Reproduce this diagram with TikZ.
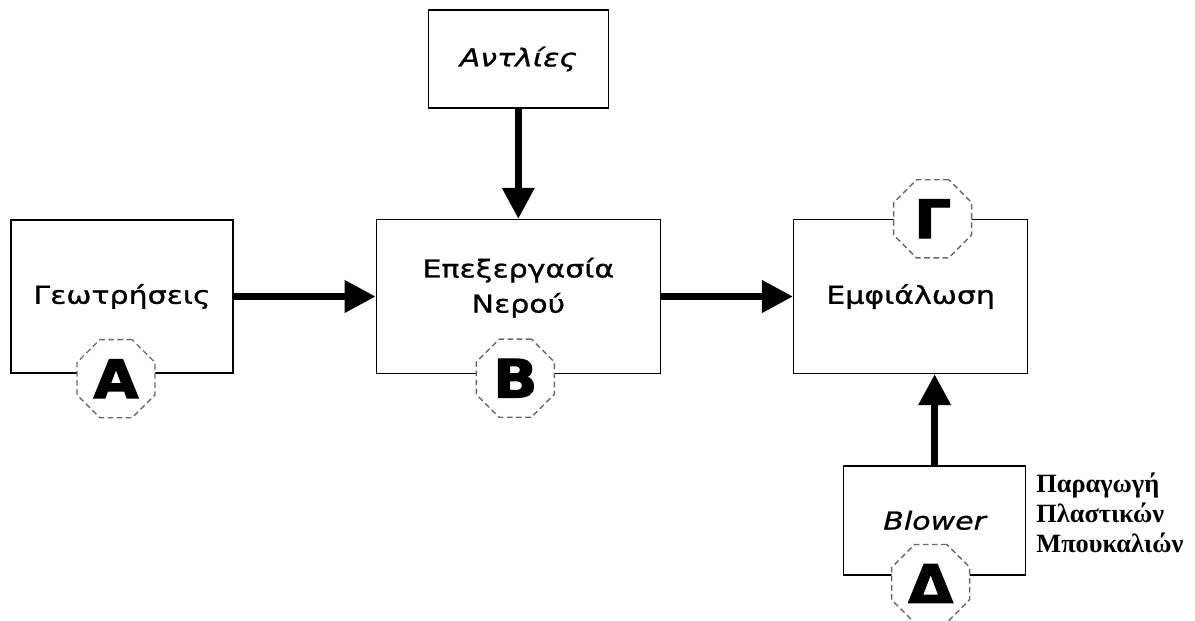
\documentclass[tikz,border=0pt]{standalone}
\usepackage{fontspec}
\usetikzlibrary{arrows.meta,positioning,shapes.geometric}
\newfontfamily\boxfont{DejaVu Sans}[FakeStretch=1.22,FakeBold=1]
\newfontfamily\tagfont{DejaVu Sans Bold}[FakeBold=2.5,FakeStretch=1.1]
\newfontfamily\notefont{Liberation Serif}
\definecolor{taggray}{HTML}{6A6A6A}
\begin{document}
\begin{tikzpicture}[
  x=0.02cm, y=-0.02cm,
  box/.style={draw, rectangle, line width=0.8pt, fill=white,
              font=\boxfont\fontsize{14}{20}\selectfont, align=center},
  tag/.style={draw=taggray, dashed, dash pattern=on 3.2pt off 2pt,
              regular polygon, regular polygon sides=8,
              minimum size=1.69cm, inner sep=0pt, fill=white, line width=0.8pt,
              font=\tagfont\fontsize{30}{30}\selectfont},
  arr/.style={-{Triangle[length=0.62cm,width=0.62cm]}, line width=0.14cm},
  node distance=2.8cm
]
  \useasboundingbox (0,0) rectangle (1195,621);

  %% Main chain
  \node[box, minimum width=4.44cm, minimum height=3.06cm] (geo) at (122,296.5)
    {Γεωτρήσεις};
  \node[box, minimum width=5.68cm, minimum height=3.08cm, right=2.84cm of geo] (proc)
    {Επεξεργασία\\Νερού\\[-0.25cm]\mbox{}};
  \node[box, minimum width=4.68cm, minimum height=3.08cm, right=2.64cm of proc] (bott)
    {Εμφιάλωση};

  %% Feeds
  \node[box, minimum width=3.6cm, minimum height=1.96cm, above=2.2cm of proc] (pump)
    {\itshape Αντλίες};
  \node[box, minimum width=3.64cm, minimum height=2.18cm, below=1.82cm of bott,
        xshift=0.48cm] (blow)
    {\itshape Blower};

  %% Arrows
  \draw[arr] (geo) -- (proc);
  \draw[arr] (proc) -- (bott);
  \draw[arr] (pump) -- (proc);
  \draw[arr] (blow) -- (blow |- bott.south);

  %% Stage tags
  \node[tag] (tagA) at ([xshift=-0.12cm,yshift=-0.1cm]geo.south) {Α};
  \node[tag] (tagB) at ([xshift=-0.06cm,yshift=-0.08cm]proc.south) {Β};
  \node[tag] (tagG) at ([xshift=0.44cm]bott.north) {Γ};
  \node[tag] (tagD) at ([xshift=-0.08cm,yshift=-0.16cm]blow.south) {Δ};

  %% Note
  \node[anchor=north west, align=left, inner sep=0pt,
        font=\notefont\bfseries\fontsize{15}{17}\selectfont] (note) at (1036,473)
    {Παραγωγή\\Πλαστικών\\Μπουκαλιών};
\end{tikzpicture}
\end{document}
